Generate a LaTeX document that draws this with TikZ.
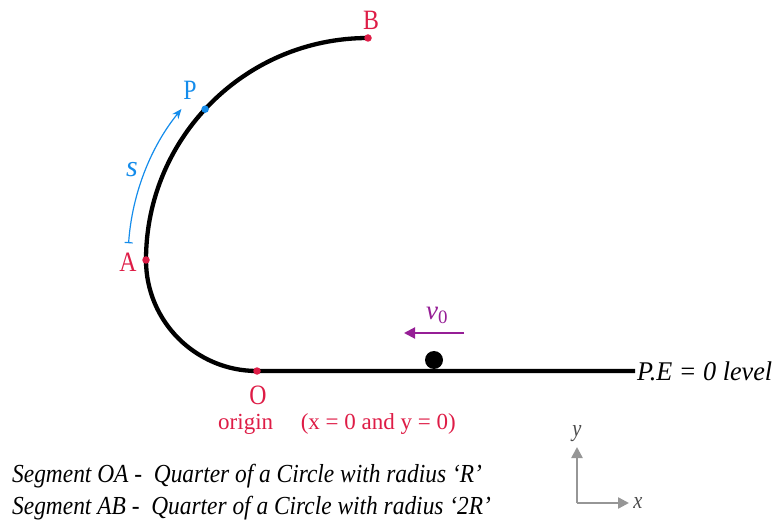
\documentclass[tikz,border=0pt]{standalone}
\usepackage{fontspec}
\setmainfont{Liberation Serif}
\usetikzlibrary{arrows.meta,calc}
\definecolor{ptred}{RGB}{222,28,70}
\definecolor{ptblue}{RGB}{20,140,235}
\definecolor{ptpurple}{RGB}{150,30,150}
\definecolor{axgray}{RGB}{150,150,150}
\begin{document}
\begin{tikzpicture}[x=1pt,y=1pt,
  track/.style={line width=4.3pt,black},
  reddot/.style={circle,fill=ptred,inner sep=0pt,minimum size=7.5pt},
  bluedot/.style={circle,fill=ptblue,inner sep=0pt,minimum size=7.5pt},
  ptlabel/.style={font=\fontsize{28}{28}\selectfont,inner sep=0pt},
  bigtext/.style={font=\fontsize{26}{28}\selectfont\itshape,inner sep=0pt},
  axis/.style={axgray,line width=2.4pt,-{Triangle[length=11pt,width=11pt]}}]
\useasboundingbox (0,0) rectangle (780,523);
% key points
\coordinate (C1) at (257,263);
\coordinate (C2) at (368,263);
\coordinate (O) at (257,152);
\coordinate (A) at (146,263);
\coordinate (B) at (368,485);
\coordinate (P) at ($(C2)+(137.2:222)$);
\coordinate (E) at (635,152);
% track
\draw[track] (E) -- (O) arc[start angle=270,end angle=180,radius=111]
   arc[start angle=180,end angle=90,radius=222];
% dots
\node[reddot] (Od) at (O) {};
\node[reddot] (Ad) at (A) {};
\node[reddot] (Bd) at (B) {};
\node[bluedot] (Pd) at (P) {};
% labels
\node[ptlabel,ptred] (Ol) at (258,128) {\scalebox{0.85}[1]{O}};
\node[ptlabel,ptred] (Al) at (128,261) {\scalebox{0.85}[1]{A}};
\node[ptlabel,ptred] (Bl) at (371,503) {\scalebox{0.85}[1]{B}};
\node[ptlabel,ptblue] (Pl) at (190,433) {\scalebox{0.85}[1]{P}};
\node[font=\fontsize{23}{24}\selectfont,text=ptred,inner sep=0pt] (orig) at (337,99) {origin\hspace{1.2em}(x = 0 and y = 0)};
% s arrow
\coordinate (S0) at ($(C2)+(176:240)$);
\draw[ptblue,line width=1.2pt,{Bar[width=8pt]}-{Stealth[length=10pt,width=8pt]}] (S0) arc[start angle=176,end angle=141,radius=240];
\node[font=\fontsize{30}{30}\selectfont\itshape,text=ptblue,inner sep=0pt] (sl) at (132,353) {s};
% ball and velocity
\node[circle,fill=black,inner sep=0pt,minimum size=18pt] (ball) at (434,163) {};
\coordinate (v1) at (464,190);
\coordinate (v2) at (404,190);
\draw[ptpurple,line width=2pt,-{Triangle[length=11pt,width=11pt]}] (v1) -- (v2);
\node[font=\fontsize{27}{27}\selectfont,text=ptpurple,inner sep=0pt] (vl) at (437,208) {\textit{v}\textsubscript{0}};
% PE label
\node[inner sep=0pt,anchor=west,font=\fontsize{27}{27}\selectfont\itshape] (pe) at (637,152) {\scalebox{0.97}[1]{P.E = 0 level}};
% axes
\coordinate (ax0) at (577,20);
\coordinate (axy) at (577,76);
\coordinate (axx) at (629,20);
\draw[axis] (ax0) -- (axy);
\draw[axis] (ax0) -- (axx);
\node[font=\fontsize{24}{24}\selectfont\itshape,text=black!70,inner sep=0pt] (yl) at (577,89) {\scalebox{0.85}[1]{y}};
\node[font=\fontsize{24}{24}\selectfont\itshape,text=black!70,inner sep=0pt] (xl) at (638,20) {\scalebox{0.85}[1]{x}};
% bottom text
\node[bigtext,anchor=west] (t1) at (12,47) {\scalebox{0.9}[1]{Segment OA -\ \ Quarter of a Circle with radius ‘R’}};
\node[bigtext,anchor=west] (t2) at (12,15) {\scalebox{0.9}[1]{Segment AB -\ \ Quarter of a Circle with radius ‘2R’}};
\end{tikzpicture}
\end{document}
